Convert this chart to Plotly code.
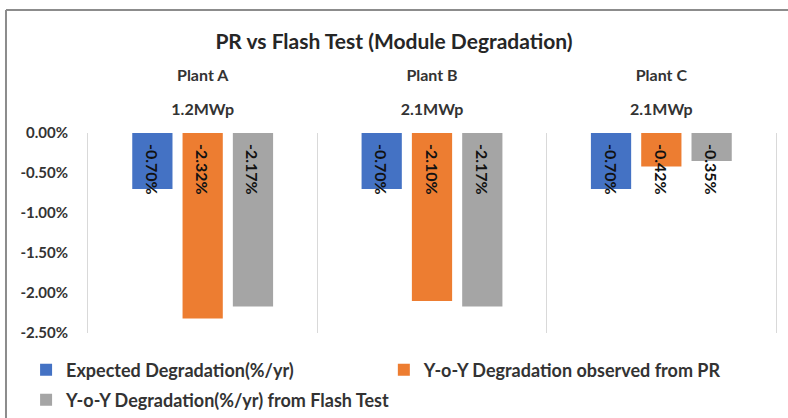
import plotly.graph_objects as go

# Plants and their capacities
plants = ["Plant A", "Plant B", "Plant C"]
capacities = ["1.2MWp", "2.1MWp", "2.1MWp"]

# Degradation values (% per year)
expected = [-0.70, -0.70, -0.70]
observed_pr = [-2.32, -2.10, -0.42]
flash_test = [-2.17, -2.17, -0.35]

series_names = [
    "Expected Degradation(%/yr)",
    "Y-o-Y Degradation observed from PR",
    "Y-o-Y Degradation(%/yr) from Flash Test",
]
series_values = [expected, observed_pr, flash_test]
series_colors = ["#4472C4", "#ED7D31", "#A5A5A5"]
series_legends = ["legend", "legend2", "legend3"]

y_tickvals = [0, -0.5, -1.0, -1.5, -2.0, -2.5]
y_ticktext = ["0.00%", "-0.50%", "-1.00%", "-1.50%", "-2.00%", "-2.50%"]

FONT = "Lato"
TEXT_COLOR = "#333333"
GRID = "#D9D9D9"
LABEL_PAD = "\u2002"  # small gap between the zero line and each value label

fig = go.Figure()
for name, vals, color, lg in zip(series_names, series_values, series_colors, series_legends):
    fig.add_trace(go.Bar(
        name=name,
        x=plants,
        y=vals,
        marker=dict(color=color, line=dict(width=0)),
        text=[f"{LABEL_PAD}{v:.2f}%" for v in vals],
        textposition="inside",
        insidetextanchor="start",
        textangle=90,
        constraintext="none",
        cliponaxis=False,
        textfont=dict(family=FONT, size=16, color="#111111", weight="bold"),
        legend=lg,
    ))

# Second top axis only for the plant names (capacities sit on the main one)
fig.add_trace(go.Scatter(x=[0, 2], y=[0, 0], xaxis="x2", mode="none",
                         showlegend=False, hoverinfo="skip"))

legend_common = dict(
    orientation="h",
    xanchor="left",
    yanchor="middle",
    font=dict(family=FONT, size=18, color=TEXT_COLOR, weight="bold"),
    bgcolor="rgba(0,0,0,0)",
)

fig.update_layout(
    width=788,
    height=418,
    margin=dict(l=88, r=12, t=133, b=85, autoexpand=False),
    paper_bgcolor="white",
    plot_bgcolor="white",
    barmode="group",
    bargap=0.342,
    bargroupgap=0.2,
    uniformtext=dict(minsize=16, mode="show"),
    font=dict(family=FONT, color=TEXT_COLOR),
    title=dict(
        text="PR vs Flash Test (Module Degradation)",
        x=0.5,
        xref="container",
        xanchor="center",
        y=0.9,
        yref="container",
        yanchor="middle",
        font=dict(family=FONT, size=21, color="#262626", weight="bold"),
    ),
    xaxis=dict(
        type="category",
        side="top",
        tickvals=plants,
        ticktext=capacities,
        tickson="boundaries",
        showgrid=True,
        gridcolor=GRID,
        gridwidth=1,
        ticks="",
        showline=False,
        zeroline=False,
        range=[-0.5, 2.5],
        tickfont=dict(family=FONT, size=16, color=TEXT_COLOR, weight="bold"),
        ticklabelstandoff=14,
    ),
    xaxis2=dict(
        overlaying="x",
        side="top",
        range=[-0.5, 2.5],
        tickvals=[0, 1, 2],
        ticktext=plants,
        showgrid=False,
        zeroline=False,
        showline=False,
        ticks="",
        tickfont=dict(family=FONT, size=16, color=TEXT_COLOR, weight="bold"),
        ticklabelstandoff=48,
    ),
    yaxis=dict(
        range=[-2.5, 0],
        tickvals=y_tickvals,
        ticktext=y_ticktext,
        showgrid=False,
        zeroline=False,
        showline=True,
        mirror=True,
        linecolor=GRID,
        linewidth=1,
        ticks="",
        ticklabelstandoff=16,
        tickfont=dict(family=FONT, size=15, color=TEXT_COLOR, weight="bold"),
    ),
    legend=dict(legend_common, x=-0.09, y=-0.185),
    legend2=dict(legend_common, x=0.43, y=-0.185),
    legend3=dict(legend_common, x=-0.09, y=-0.335),
    shapes=[
        dict(type="line", xref="paper", yref="paper", x0=-0.1192, x1=1.2,
             y0=1.615, y1=1.615, line=dict(color="#8C8C8C", width=2)),
        dict(type="line", xref="paper", yref="paper", x0=-0.1192, x1=-0.1192,
             y0=1.615, y1=-0.6, line=dict(color="#8C8C8C", width=2)),
    ],
)

fig.write_html("out.html")
